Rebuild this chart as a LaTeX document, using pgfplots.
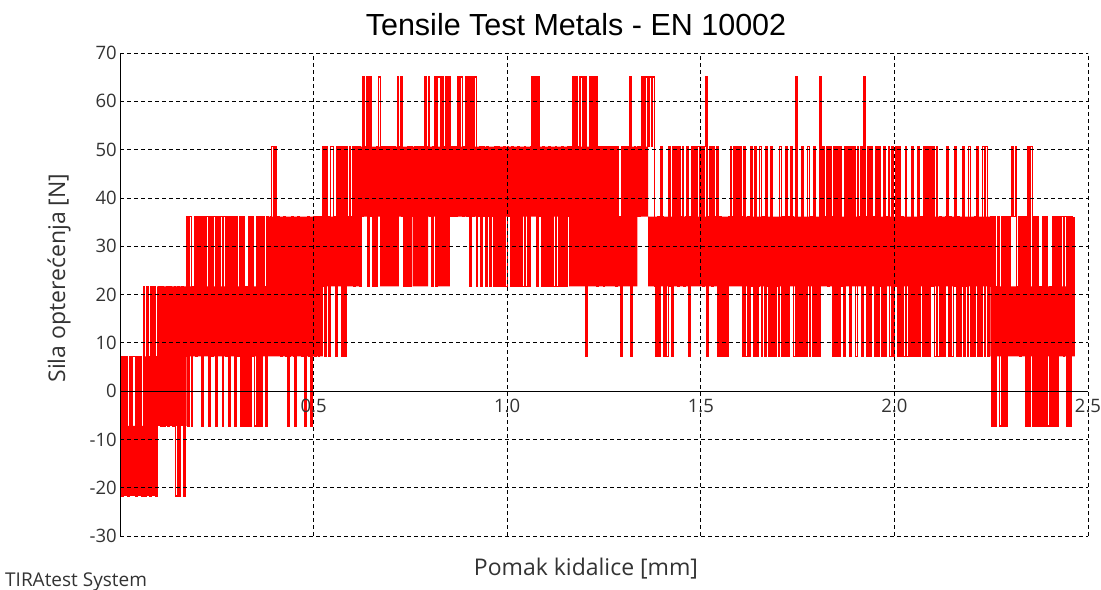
\documentclass[border=0pt]{standalone}
\usepackage{pgfplots}
\pgfplotsset{compat=1.18}
\usepackage{pgfplotstable}
\usepackage{fontspec}
\setmainfont{Open Sans}
\newfontfamily\titlefont{Liberation Sans}
\definecolor{lab}{HTML}{333333}

\pgfplotstableread[row sep=\\]{
x y\\
0 7.2\\ 0.004 -21.7\\ 0.008 7.2\\ 0.012 -7.2\\ 0.016 7.2\\ 0.020 -21.7\\ 0.024 7.2\\ 0.028 -7.2\\ 0.032 7.2\\ 0.036 7.2\\
0.040 -21.7\\ 0.044 7.2\\ 0.048 -7.2\\ 0.052 7.2\\ 0.056 -21.7\\ 0.060 21.7\\ 0.064 -21.7\\ 0.068 21.7\\ 0.072 7.2\\ 0.076 -21.7\\
0.080 21.7\\ 0.084 -7.2\\ 0.088 21.7\\ 0.092 -21.7\\ 0.096 7.2\\ 0.100 21.7\\ 0.104 -7.2\\ 0.108 21.7\\ 0.112 -7.2\\ 0.116 7.2\\
0.120 21.7\\ 0.124 -7.2\\ 0.128 21.7\\ 0.132 7.2\\ 0.136 -7.2\\ 0.140 21.7\\ 0.144 -21.7\\ 0.148 21.7\\ 0.152 -21.7\\ 0.156 7.2\\
0.160 21.7\\ 0.164 -21.7\\ 0.168 7.2\\ 0.172 36.1\\ 0.176 -7.2\\ 0.180 36.1\\ 0.184 -7.2\\ 0.188 21.7\\ 0.192 36.1\\ 0.196 7.2\\
0.200 36.1\\ 0.204 21.7\\ 0.208 36.1\\ 0.212 -7.2\\ 0.216 36.1\\ 0.220 21.7\\ 0.224 36.1\\ 0.228 -7.2\\ 0.232 36.1\\ 0.236 7.2\\
0.240 36.1\\ 0.244 36.1\\ 0.248 -7.2\\ 0.252 36.1\\ 0.256 21.7\\ 0.260 36.1\\ 0.264 -7.2\\ 0.268 36.1\\ 0.272 7.2\\ 0.276 36.1\\
0.280 -7.2\\ 0.284 36.1\\ 0.288 21.7\\ 0.292 36.1\\ 0.296 -7.2\\ 0.300 36.1\\ 0.304 7.2\\ 0.308 36.1\\ 0.312 -7.2\\ 0.316 36.1\\
0.320 -7.2\\ 0.324 21.7\\ 0.328 -7.2\\ 0.332 36.1\\ 0.336 -7.2\\ 0.340 36.1\\ 0.344 7.2\\ 0.348 -7.2\\ 0.352 36.1\\ 0.356 -7.2\\
0.360 36.1\\ 0.364 -7.2\\ 0.368 36.1\\ 0.372 21.7\\ 0.376 -7.2\\ 0.380 36.1\\ 0.384 21.7\\ 0.388 36.1\\ 0.392 50.6\\ 0.396 36.1\\
0.400 50.6\\ 0.404 21.7\\ 0.408 36.1\\ 0.412 21.7\\ 0.416 7.2\\ 0.420 21.7\\ 0.424 36.1\\ 0.428 7.2\\ 0.432 -7.2\\ 0.436 7.2\\
0.440 21.7\\ 0.444 36.1\\ 0.448 7.2\\ 0.452 -7.2\\ 0.456 21.7\\ 0.460 36.1\\ 0.464 21.7\\ 0.468 7.2\\ 0.472 7.2\\ 0.476 -7.2\\
0.480 21.7\\ 0.484 36.1\\ 0.488 7.2\\ 0.492 -7.2\\ 0.496 21.7\\ 0.500 36.1\\ 0.504 7.2\\ 0.508 36.1\\ 0.512 7.2\\ 0.516 36.1\\
0.520 21.7\\ 0.524 50.6\\ 0.528 7.2\\ 0.532 50.6\\ 0.536 36.1\\ 0.540 7.2\\ 0.544 50.6\\ 0.548 50.6\\ 0.552 36.1\\ 0.556 7.2\\
0.560 50.6\\ 0.564 36.1\\ 0.568 50.6\\ 0.572 7.2\\ 0.576 50.6\\ 0.580 7.2\\ 0.584 50.6\\ 0.588 36.1\\ 0.592 50.6\\ 0.596 36.1\\
0.600 50.6\\ 0.604 21.7\\ 0.608 50.6\\ 0.612 36.1\\ 0.616 50.6\\ 0.620 21.7\\ 0.624 36.1\\ 0.628 65\\ 0.632 50.6\\ 0.636 65\\
0.640 21.7\\ 0.644 65\\ 0.648 36.1\\ 0.652 21.7\\ 0.656 36.1\\ 0.660 21.7\\ 0.664 50.6\\ 0.668 65\\ 0.672 36.1\\ 0.676 50.6\\
0.680 36.1\\ 0.684 50.6\\ 0.688 36.1\\ 0.692 50.6\\ 0.696 36.1\\ 0.700 50.6\\ 0.704 36.1\\ 0.708 50.6\\ 0.712 36.1\\ 0.716 65\\
0.720 50.6\\ 0.724 65\\ 0.728 36.1\\ 0.732 21.7\\ 0.736 36.1\\ 0.740 21.7\\ 0.744 50.6\\ 0.748 21.7\\ 0.752 50.6\\ 0.756 36.1\\
0.760 50.6\\ 0.764 36.1\\ 0.768 50.6\\ 0.772 36.1\\ 0.776 50.6\\ 0.780 36.1\\ 0.784 50.6\\ 0.788 65\\ 0.792 50.6\\ 0.796 65\\
0.800 36.1\\ 0.804 21.7\\ 0.808 50.6\\ 0.812 65\\ 0.816 21.7\\ 0.820 65\\ 0.824 65\\ 0.828 50.6\\ 0.832 65\\ 0.836 50.6\\
0.840 65\\ 0.844 50.6\\ 0.848 65\\ 0.852 36.1\\ 0.856 50.6\\ 0.860 36.1\\ 0.864 50.6\\ 0.868 36.1\\ 0.872 65\\ 0.876 50.6\\
0.880 65\\ 0.884 36.1\\ 0.888 50.6\\ 0.892 65\\ 0.896 36.1\\ 0.900 65\\ 0.904 21.7\\ 0.908 65\\ 0.912 36.1\\ 0.916 65\\
0.920 21.7\\ 0.924 36.1\\ 0.928 50.6\\ 0.932 21.7\\ 0.936 50.6\\ 0.940 36.1\\ 0.944 21.7\\ 0.948 50.6\\ 0.952 36.1\\ 0.956 21.7\\
0.960 36.1\\ 0.964 21.7\\ 0.968 50.6\\ 0.972 21.7\\ 0.976 50.6\\ 0.980 21.7\\ 0.984 36.1\\ 0.988 21.7\\ 0.992 50.6\\ 0.996 21.7\\
1.000 50.6\\ 1.004 36.1\\ 1.008 21.7\\ 1.012 50.6\\ 1.016 21.7\\ 1.020 36.1\\ 1.024 21.7\\ 1.028 50.6\\ 1.032 21.7\\ 1.036 36.1\\
1.040 21.7\\ 1.044 50.6\\ 1.048 21.7\\ 1.052 36.1\\ 1.056 21.7\\ 1.060 50.6\\ 1.064 65\\ 1.068 50.6\\ 1.072 65\\ 1.076 21.7\\
1.080 65\\ 1.084 36.1\\ 1.088 21.7\\ 1.092 50.6\\ 1.096 21.7\\ 1.100 36.1\\ 1.104 21.7\\ 1.108 50.6\\ 1.112 21.7\\ 1.116 36.1\\
1.120 21.7\\ 1.124 50.6\\ 1.128 21.7\\ 1.132 36.1\\ 1.136 21.7\\ 1.140 50.6\\ 1.144 21.7\\ 1.148 36.1\\ 1.152 21.7\\ 1.156 50.6\\
1.160 36.1\\ 1.164 50.6\\ 1.168 65\\ 1.172 50.6\\ 1.176 65\\ 1.180 36.1\\ 1.184 50.6\\ 1.188 65\\ 1.192 65\\ 1.196 50.6\\
1.200 65\\ 1.204 7.2\\ 1.208 36.1\\ 1.212 65\\ 1.216 50.6\\ 1.220 65\\ 1.224 36.1\\ 1.228 65\\ 1.232 21.7\\ 1.236 50.6\\
1.240 36.1\\ 1.244 50.6\\ 1.248 21.7\\ 1.252 50.6\\ 1.256 36.1\\ 1.260 50.6\\ 1.264 36.1\\ 1.268 50.6\\ 1.272 36.1\\ 1.276 50.6\\
1.280 21.7\\ 1.284 50.6\\ 1.288 36.1\\ 1.292 7.2\\ 1.296 50.6\\ 1.300 36.1\\ 1.304 50.6\\ 1.308 36.1\\ 1.312 50.6\\ 1.316 65\\
1.320 7.2\\ 1.324 36.1\\ 1.328 50.6\\ 1.332 36.1\\ 1.336 50.6\\ 1.340 36.1\\ 1.344 50.6\\ 1.348 65\\ 1.352 50.6\\ 1.356 65\\
1.360 65\\ 1.364 50.6\\ 1.368 65\\ 1.372 50.6\\ 1.376 65\\ 1.380 21.7\\ 1.384 7.2\\ 1.388 36.1\\ 1.392 7.2\\ 1.396 50.6\\
1.400 36.1\\ 1.404 7.2\\ 1.408 21.7\\ 1.412 7.2\\ 1.416 50.6\\ 1.420 21.7\\ 1.424 7.2\\ 1.428 50.6\\ 1.432 36.1\\ 1.436 50.6\\
1.440 21.7\\ 1.444 50.6\\ 1.448 36.1\\ 1.452 50.6\\ 1.456 21.7\\ 1.460 36.1\\ 1.464 50.6\\ 1.468 7.2\\ 1.472 36.1\\ 1.476 50.6\\
1.480 36.1\\ 1.484 50.6\\ 1.488 36.1\\ 1.492 50.6\\ 1.496 36.1\\ 1.500 50.6\\ 1.504 21.7\\ 1.508 50.6\\ 1.512 65\\ 1.516 7.2\\
1.520 36.1\\ 1.524 50.6\\ 1.528 21.7\\ 1.532 50.6\\ 1.536 36.1\\ 1.540 50.6\\ 1.544 7.2\\ 1.548 36.1\\ 1.552 7.2\\ 1.556 21.7\\
1.560 7.2\\ 1.564 21.7\\ 1.568 7.2\\ 1.572 36.1\\ 1.576 50.6\\ 1.580 36.1\\ 1.584 50.6\\ 1.588 36.1\\ 1.592 50.6\\ 1.596 36.1\\
1.600 50.6\\ 1.604 36.1\\ 1.608 7.2\\ 1.612 50.6\\ 1.616 7.2\\ 1.620 36.1\\ 1.624 7.2\\ 1.628 50.6\\ 1.632 21.7\\ 1.636 7.2\\
1.640 50.6\\ 1.644 7.2\\ 1.648 21.7\\ 1.652 50.6\\ 1.656 7.2\\ 1.660 36.1\\ 1.664 7.2\\ 1.668 50.6\\ 1.672 21.7\\ 1.676 7.2\\
1.680 50.6\\ 1.684 7.2\\ 1.688 21.7\\ 1.692 7.2\\ 1.696 21.7\\ 1.700 7.2\\ 1.704 50.6\\ 1.708 7.2\\ 1.712 36.1\\ 1.716 7.2\\
1.720 50.6\\ 1.724 7.2\\ 1.728 36.1\\ 1.732 50.6\\ 1.736 36.1\\ 1.740 7.2\\ 1.744 65\\ 1.748 7.2\\ 1.752 21.7\\ 1.756 7.2\\
1.760 50.6\\ 1.764 7.2\\ 1.768 21.7\\ 1.772 7.2\\ 1.776 50.6\\ 1.780 7.2\\ 1.784 36.1\\ 1.788 7.2\\ 1.792 50.6\\ 1.796 7.2\\
1.800 21.7\\ 1.804 7.2\\ 1.808 65\\ 1.812 36.1\\ 1.816 50.6\\ 1.820 36.1\\ 1.824 50.6\\ 1.828 21.7\\ 1.832 50.6\\ 1.836 36.1\\
1.840 7.2\\ 1.844 50.6\\ 1.848 7.2\\ 1.852 50.6\\ 1.856 7.2\\ 1.860 50.6\\ 1.864 21.7\\ 1.868 7.2\\ 1.872 50.6\\ 1.876 36.1\\
1.880 50.6\\ 1.884 7.2\\ 1.888 50.6\\ 1.892 36.1\\ 1.896 50.6\\ 1.900 7.2\\ 1.904 50.6\\ 1.908 36.1\\ 1.912 50.6\\ 1.916 7.2\\
1.920 65\\ 1.924 36.1\\ 1.928 7.2\\ 1.932 50.6\\ 1.936 7.2\\ 1.940 50.6\\ 1.944 36.1\\ 1.948 7.2\\ 1.952 50.6\\ 1.956 7.2\\
1.960 50.6\\ 1.964 21.7\\ 1.968 7.2\\ 1.972 50.6\\ 1.976 7.2\\ 1.980 36.1\\ 1.984 50.6\\ 1.988 7.2\\ 1.992 50.6\\ 1.996 7.2\\
2.000 21.7\\ 2.004 50.6\\ 2.008 7.2\\ 2.012 50.6\\ 2.016 7.2\\ 2.020 36.1\\ 2.024 7.2\\ 2.028 50.6\\ 2.032 7.2\\ 2.036 21.7\\
2.040 7.2\\ 2.044 50.6\\ 2.048 7.2\\ 2.052 21.7\\ 2.056 7.2\\ 2.060 50.6\\ 2.064 7.2\\ 2.068 36.1\\ 2.072 7.2\\ 2.076 50.6\\
2.080 7.2\\ 2.084 50.6\\ 2.088 7.2\\ 2.092 50.6\\ 2.096 21.7\\ 2.100 50.6\\ 2.104 7.2\\ 2.108 50.6\\ 2.112 7.2\\ 2.116 36.1\\
2.120 7.2\\ 2.124 21.7\\ 2.128 7.2\\ 2.132 36.1\\ 2.136 50.6\\ 2.140 7.2\\ 2.144 36.1\\ 2.148 7.2\\ 2.152 21.7\\ 2.156 50.6\\
2.160 7.2\\ 2.164 36.1\\ 2.168 7.2\\ 2.172 21.7\\ 2.176 50.6\\ 2.180 7.2\\ 2.184 21.7\\ 2.188 7.2\\ 2.192 50.6\\ 2.196 7.2\\
2.200 21.7\\ 2.204 7.2\\ 2.208 36.1\\ 2.212 50.6\\ 2.216 7.2\\ 2.220 21.7\\ 2.224 7.2\\ 2.228 50.6\\ 2.232 7.2\\ 2.236 50.6\\
2.240 7.2\\ 2.244 21.7\\ 2.248 36.1\\ 2.252 -7.2\\ 2.256 36.1\\ 2.260 -7.2\\ 2.264 21.7\\ 2.268 36.1\\ 2.272 -7.2\\ 2.276 36.1\\
2.280 -7.2\\ 2.284 36.1\\ 2.288 -7.2\\ 2.292 36.1\\ 2.296 21.7\\ 2.300 36.1\\ 2.304 50.6\\ 2.308 36.1\\ 2.312 50.6\\ 2.316 21.7\\
2.320 36.1\\ 2.324 7.2\\ 2.328 36.1\\ 2.332 21.7\\ 2.336 36.1\\ 2.340 -7.2\\ 2.344 50.6\\ 2.348 -7.2\\ 2.352 50.6\\ 2.356 -7.2\\
2.360 36.1\\ 2.364 -7.2\\ 2.368 36.1\\ 2.372 -7.2\\ 2.376 21.7\\ 2.380 -7.2\\ 2.384 36.1\\ 2.388 -7.2\\ 2.392 36.1\\ 2.396 -7.2\\
2.400 21.7\\ 2.404 -7.2\\ 2.408 36.1\\ 2.412 -7.2\\ 2.416 36.1\\ 2.420 -7.2\\ 2.424 36.1\\ 2.428 21.7\\ 2.432 36.1\\ 2.436 7.2\\
2.440 36.1\\ 2.444 -7.2\\ 2.448 36.1\\ 2.452 -7.2\\ 2.456 36.1\\ 2.460 21.7\\ 2.464 36.1\\
}\sig

\begin{document}
\begin{tikzpicture}
\useasboundingbox (0,0) rectangle (1101bp,590bp);
\begin{axis}[
  at={(120bp,54bp)}, anchor=south west,
  scale only axis, width=968bp, height=483bp,
  xmin=0, xmax=2.5, ymin=-30, ymax=70,
  axis x line=middle, axis y line=left,
  axis line style={-, black, line width=0.9bp},
  hide obscured x ticks=false, hide obscured y ticks=false,
  xtick={0.5,1,1.5,2,2.5}, ytick={-30,-20,...,70},
  grid=major,
  major grid style={black, line width=0.7bp, dash pattern=on 4bp off 3bp},
  tick align=inside, major tick length=4bp,
  tick style={black, line width=0.7bp},
  xtick style={draw=none},
  axis on top,
  /pgf/number format/assume math mode=true,
  tick label style={font=\fontsize{18.5bp}{20bp}\selectfont, text=lab},
  xticklabel style={anchor=north, inner sep=0pt, yshift=-8bp,
    /pgf/number format/.cd, fixed, fixed zerofill, precision=1},
  yticklabel style={anchor=east, inner sep=0pt, xshift=-3bp},
]
\addplot[fill=red, draw=none, forget plot] coordinates {
(0,-7.2)(0.060,-7.2)(0.060,7.2)(0.096,7.2)(0.096,21.7)(0.384,21.7)(0.384,36.1)
(0.620,36.1)(0.620,50.6)(1.264,50.6)(1.264,36.1)(1.308,36.1)(1.308,50.6)
(1.364,50.6)(1.364,36.1)(2.248,36.1)(2.248,21.7)(2.466,21.7)
(2.466,7.2)(2.248,7.2)(2.248,21.7)(1.364,21.7)(1.364,36.1)(1.336,36.1)
(1.336,21.7)(1.160,21.7)(1.160,36.1)(0.852,36.1)(0.852,21.7)(0.820,21.7)
(0.820,36.1)(0.796,36.1)(0.796,21.7)(0.756,21.7)(0.756,36.1)(0.720,36.1)
(0.720,21.7)(0.672,21.7)(0.672,36.1)(0.620,36.1)(0.620,21.7)(0.524,21.7)
(0.524,7.2)(0.172,7.2)(0.172,-7.2)(0.096,-7.2)(0.096,-21.7)(0,-21.7)
};
\addplot[const plot, red, line width=1.4bp, no markers] table[x=x, y=y] {\sig};
\end{axis}
\node[anchor=base, inner sep=0pt, font=\titlefont\fontsize{30.5bp}{36bp}\selectfont] at (576bp,554bp) {Tensile Test Metals - EN 10002};
\node[anchor=base, inner sep=0pt, text=lab, font=\fontsize{23bp}{26bp}\selectfont] at (586bp,15bp) {Pomak kidalice [mm]};
\node[anchor=base, rotate=90, inner sep=0pt, text=lab, font=\fontsize{23bp}{26bp}\selectfont] at (65bp,312bp) {Sila opterećenja [N]};
\node[anchor=base west, inner sep=0pt, text=lab, font=\fontsize{19bp}{22bp}\selectfont] at (5bp,3.5bp) {TIRAtest System};
\end{tikzpicture}
\end{document}
